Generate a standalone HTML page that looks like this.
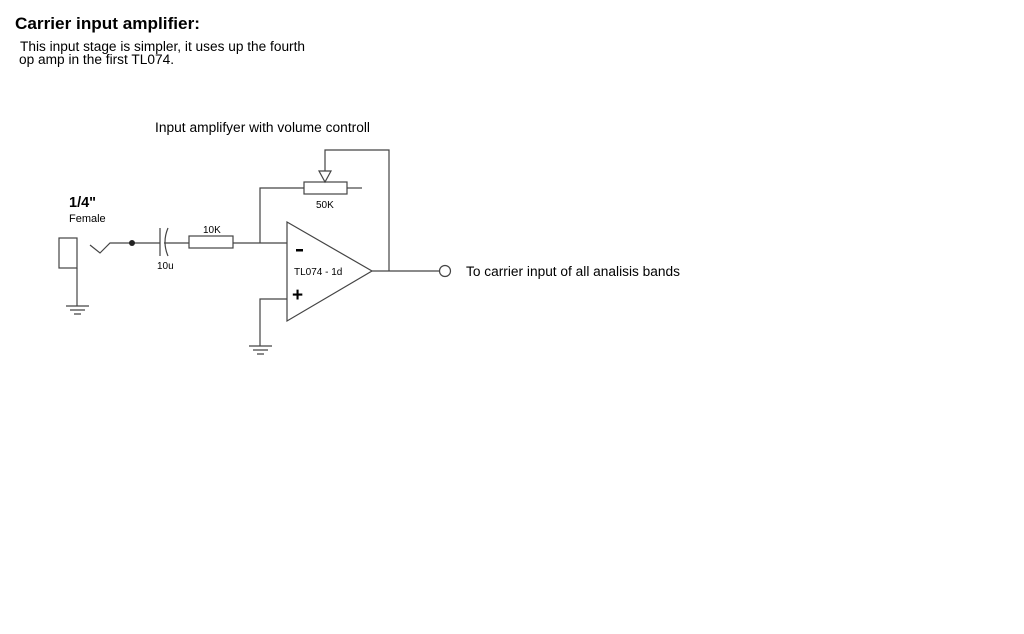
<!DOCTYPE html>
<html><head><meta charset="utf-8"><style>
html,body{margin:0;padding:0;background:#fff;}
svg{display:block;}
text{font-family:"Liberation Sans",Arial,sans-serif;fill:#000;}
</style></head><body>
<svg width="1024" height="634" viewBox="0 0 1024 634" xmlns="http://www.w3.org/2000/svg">
<text x="15" y="29" font-size="17" font-weight="bold" textLength="185" lengthAdjust="spacingAndGlyphs">Carrier input amplifier:</text>
<text x="20" y="51" font-size="13.5" textLength="285" lengthAdjust="spacingAndGlyphs">This input stage is simpler, it uses up the fourth</text>
<text x="19" y="64" font-size="13.5" textLength="155" lengthAdjust="spacingAndGlyphs">op amp in the first TL074.</text>
<text x="155" y="132" font-size="13.5" textLength="215" lengthAdjust="spacingAndGlyphs">Input amplifyer with volume controll</text>
<text x="69" y="207" font-size="14.5" font-weight="bold">1/4"</text>
<text x="69" y="222" font-size="11">Female</text>
<text x="203" y="233" font-size="10">10K</text>
<text x="157" y="269" font-size="10">10u</text>
<text x="316" y="208" font-size="10">50K</text>
<text x="294" y="275" font-size="10">TL074 - 1d</text>
<text x="466" y="276" font-size="13.5" textLength="214" lengthAdjust="spacingAndGlyphs">To carrier input of all analisis bands</text>
<g stroke="#444" stroke-width="1.2" fill="none">
<rect x="59" y="238" width="18" height="30"/>
<path d="M77 268 V306"/>
<path d="M66 306 H89 M70 310 H85 M74 314 H81"/>
<path d="M90 245 L100 253 L110 243 H160"/>
<path d="M160 228 V256"/>
<path d="M168 228 Q162 242 168 256"/>
<path d="M164 243 H189"/>
<rect x="189" y="236" width="44" height="12"/>
<path d="M233 243 H287"/>
<path d="M260 243 V188 H304"/>
<rect x="304" y="182" width="43" height="12"/>
<path d="M347 188 H362"/>
<path d="M319 171 H331 L325 182 Z"/>
<path d="M325 171 V150 H389 V271"/>
<path d="M287 222 L372 271 L287 321 Z"/>
<path d="M372 271 H439"/>
<circle cx="445" cy="271" r="5.5"/>
<path d="M287 299 H260 V346"/>
<path d="M249 346 H272 M253 350 H268 M257 354 H264"/>
</g>
<circle cx="132" cy="243" r="3" fill="#222"/>
<rect x="296" y="249" width="7" height="2.5" fill="#000"/>
<text x="292" y="301" font-size="19" font-weight="bold">+</text>
</svg>
</body></html>
